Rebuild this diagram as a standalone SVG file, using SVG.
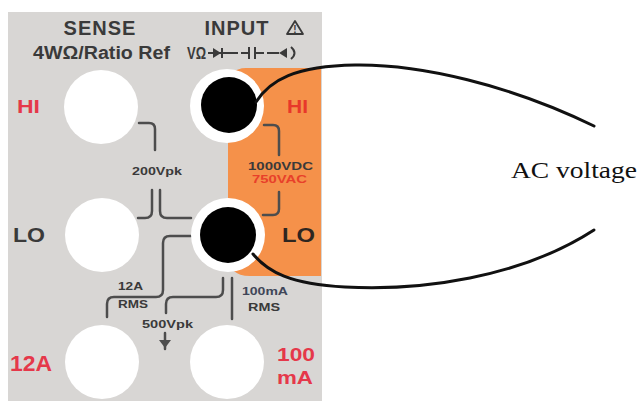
<svg xmlns="http://www.w3.org/2000/svg" width="639" height="403" viewBox="0 0 639 403">
<style>
.lbl{font-family:"Liberation Sans",Arial,sans-serif;font-weight:bold;fill:#3a3a3a}
.red{fill:#e5384a}
.sm{font-size:11px}
.trace{fill:none;stroke:#4d4d4d;stroke-width:2.5;stroke-linecap:round;stroke-linejoin:round}
.sym{fill:none;stroke:#3a3a3a;stroke-width:2}
.hole{fill:#ffffff}
.plug{fill:#000000}
.wire{fill:none;stroke:#111111;stroke-width:3;stroke-linecap:round}
</style>
<rect width="639" height="403" fill="#ffffff"/>
<g id="panel">
  <rect x="8" y="12" width="314" height="389" fill="#d8d6d4"/>
  <path d="M246 68 H321 V276 H250 Q228 276 228 254 V90 Q228 68 246 68 Z" fill="#f5914a"/>
</g>
<g id="header">
  <text class="lbl" x="100" y="35" font-size="20" text-anchor="middle" letter-spacing="1">SENSE</text>
  <text class="lbl" x="237" y="35" font-size="20" text-anchor="middle" letter-spacing="1">INPUT</text>
  <path d="M295 21 L303 34 H287 Z" fill="none" stroke="#3a3a3a" stroke-width="1.8" stroke-linejoin="round"/>
  <text class="lbl" x="295" y="33" font-size="10" text-anchor="middle">!</text>
  <text class="lbl" x="33" y="59" font-size="18" textLength="137" lengthAdjust="spacingAndGlyphs">4WΩ/Ratio Ref</text>
  <text class="lbl" x="187" y="59" font-size="16" textLength="19" lengthAdjust="spacingAndGlyphs">VΩ</text>
  <g id="symbols">
    <path class="sym" d="M208 53 H238"/>
    <path d="M213 48 L221 53 L213 58 Z" fill="#3a3a3a"/>
    <path class="sym" d="M222 48 V58"/>
    <path class="sym" d="M241 53 H249 M255 53 H264 M249 47 V59 M255 47 V59"/>
    <path class="sym" d="M267 53 H279"/>
    <path d="M279 53 L287 48 V58 Z" fill="#3a3a3a"/>
    <path class="sym" d="M291 47 Q298 53 291 59"/>
  </g>
</g>
<g id="connectors">
  <path class="trace" d="M139 123 H149 Q155 123 155 129 V150"/>
  <path class="trace" d="M152 190 V211 Q152 218 145 218 H138"/>
  <path class="trace" d="M160 190 V211 Q160 218 167 218 H191"/>
  <path class="trace" d="M191 236 H170 Q163 236 163 243 V290 Q163 297 156 297 H114 Q107 297 107 304 V317"/>
  <path class="trace" d="M223 278 V290 Q223 297 216 297 H173 Q166 297 166 304 V313"/>
  <path class="trace" d="M232 278 V319"/>
  <path class="trace" d="M264 125 H273 Q279 125 279 131 V155"/>
  <path class="trace" d="M279 192 V209 Q279 215 273 215 H263"/>
  <path class="trace" d="M165 333 V349"/>
  <path d="M159 340 H171 L165 348 Z" fill="#4d4d4d"/>
</g>
<g id="sense-hi"><circle class="hole" cx="101" cy="107" r="37"/><text class="lbl red" x="17" y="113" font-size="18" textLength="23" lengthAdjust="spacingAndGlyphs">HI</text></g>
<g id="sense-lo"><circle class="hole" cx="102" cy="235" r="37"/><text class="lbl" x="13" y="242" font-size="20" textLength="32" lengthAdjust="spacingAndGlyphs">LO</text></g>
<g id="input-hi"><circle class="hole" cx="227" cy="106" r="37"/><circle class="plug" cx="229" cy="105" r="28"/><text class="lbl" x="287" y="113" font-size="18" textLength="21" lengthAdjust="spacingAndGlyphs" style="fill:#e8382a">HI</text></g>
<g id="input-lo"><circle class="hole" cx="228" cy="235" r="37"/><circle class="plug" cx="228" cy="235" r="28"/><text class="lbl" x="282" y="242" font-size="20" textLength="33" lengthAdjust="spacingAndGlyphs" style="fill:#2e2620">LO</text></g>
<g id="amp12"><circle class="hole" cx="102" cy="362" r="37"/><text class="lbl red" x="10" y="371" font-size="22" textLength="42" lengthAdjust="spacingAndGlyphs">12A</text></g>
<g id="ma100"><circle class="hole" cx="227" cy="362" r="37"/><text class="lbl red" x="277" y="361" font-size="19" textLength="38" lengthAdjust="spacingAndGlyphs">100</text><text class="lbl red" x="277" y="384" font-size="19" textLength="36" lengthAdjust="spacingAndGlyphs">mA</text></g>
<g id="ratings">
  <text class="lbl sm" x="132" y="175" textLength="50" lengthAdjust="spacingAndGlyphs">200Vpk</text>
  <text class="lbl sm" x="248" y="170" textLength="65" lengthAdjust="spacingAndGlyphs">1000VDC</text>
  <text class="lbl sm" x="252" y="183" textLength="55" lengthAdjust="spacingAndGlyphs" style="fill:#e8402a">750VAC</text>
  <text class="lbl sm" x="118" y="290" textLength="25" lengthAdjust="spacingAndGlyphs">12A</text>
  <text class="lbl sm" x="118" y="308" textLength="30" lengthAdjust="spacingAndGlyphs">RMS</text>
  <text class="lbl sm" x="142" y="328" textLength="51" lengthAdjust="spacingAndGlyphs">500Vpk</text>
  <text class="lbl sm" x="242" y="295" textLength="46" lengthAdjust="spacingAndGlyphs" style="fill:#404658">100mA</text>
  <text class="lbl sm" x="248" y="311" textLength="32" lengthAdjust="spacingAndGlyphs">RMS</text>
</g>
<g id="wires">
  <path class="wire" d="M256 102 C270 80 295 66 355 65 C420 64 510 85 594 126"/>
  <path class="wire" d="M253 254 C268 272 290 284 345 287 C420 291 520 278 594 230"/>
</g>
<g id="source">
  <text x="511" y="178" font-family="Liberation Serif,'Times New Roman',serif" font-size="24" textLength="126" lengthAdjust="spacingAndGlyphs" fill="#111">AC voltage</text>
</g>
</svg>
